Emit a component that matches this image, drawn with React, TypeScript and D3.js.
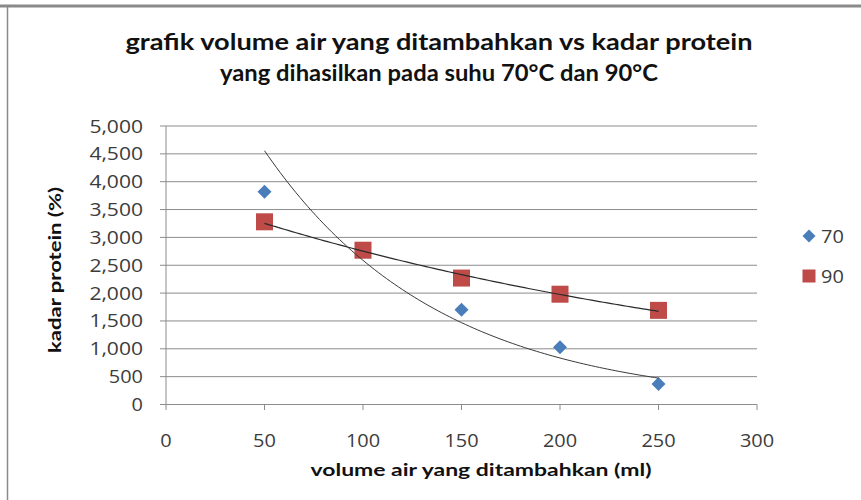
import React from "react";
import * as d3 from "d3";

const volumes = [50, 100, 150, 200, 250];
const series70 = [3820, 2770, 1700, 1030, 370];
const series90 = [3280, 2770, 2270, 1980, 1690];
const xTicks = [0, 50, 100, 150, 200, 250, 300];
const yTicks = [0, 500, 1000, 1500, 2000, 2500, 3000, 3500, 4000, 4500, 5000];
const titleLines = [
  "grafik volume air yang ditambahkan vs kadar protein",
  "yang dihasilkan pada suhu 70°C dan 90°C",
];
const xTitle = "volume air yang ditambahkan (ml)";
const yTitle = "kadar protein (%)";
const legendLabels = ["70", "90"];

function expFit(xs: number[], ys: number[]) {
  const ly = ys.map((v) => Math.log(v));
  const mx = d3.mean(xs)!;
  const my = d3.mean(ly)!;
  let sxy = 0, sxx = 0;
  xs.forEach((x, i) => {
    sxy += (x - mx) * (ly[i] - my);
    sxx += (x - mx) * (x - mx);
  });
  const b = sxy / sxx;
  const a = my - b * mx;
  return (x: number) => Math.exp(a + b * x);
}

// width of a numeric label in the reference's wide digit style
const labelWidth = (s: string) =>
  s.split("").reduce((acc, c) => acc + (c === "," ? 8 : 11.4), 0);

export default function App() {
  const W = 861, H = 500;
  const x = d3.scaleLinear().domain([0, 300]).range([166, 757]);
  const y = d3.scaleLinear().domain([0, 5000]).range([404.5, 126]);
  const font = "Lato, 'Open Sans', sans-serif";
  const tickFont = "'Open Sans', sans-serif";
  const fmt = d3.format(",");

  const f70 = expFit(volumes, series70);
  const f90 = expFit(volumes, series90);
  const xs = d3.range(50, 250.01, 2);
  const line = d3.line<number[]>().x((d) => x(d[0])).y((d) => y(d[1]));
  const path70 = line(xs.map((v) => [v, f70(v)]));
  const path90 = line(xs.map((v) => [v, f90(v)]));

  const diamond = (cx: number, cy: number, r: number) =>
    `M${cx},${cy - r}L${cx + r},${cy}L${cx},${cy + r}L${cx - r},${cy}Z`;

  const blue = "#4A7EBB";
  const red = "#BE4B48";
  const grid = "#8C8C8C";
  const textCol = "#3c3c3c";

  return (
    <svg width={W} height={H} style={{ position: "absolute", left: 0, top: 0 }}>
      <rect x={0} y={0} width={W} height={H} fill="#fff" />
      <line x1={0} x2={W} y1={6} y2={6} stroke="#8a8a8a" strokeWidth={3} />
      <line x1={7.5} x2={7.5} y1={6} y2={H} stroke="#8a8a8a" strokeWidth={1.5} />

      {titleLines.map((t, i) => (
        <text
          key={i}
          x={439}
          y={50 + i * 31}
          textAnchor="middle"
          fontFamily={font}
          fontWeight="bold"
          fontSize={22}
          fill="#111"
          textLength={i === 0 ? 627 : 438}
          lengthAdjust="spacingAndGlyphs"
        >
          {t}
        </text>
      ))}

      {yTicks.map((t) => (
        <g key={t}>
          <line x1={160} x2={757} y1={y(t)} y2={y(t)} stroke={grid} strokeWidth={1} />
          <text
            x={143}
            y={y(t) + 6.5}
            textAnchor="end"
            fontFamily={tickFont}
            fontSize={18}
            fill={textCol}
            textLength={labelWidth(fmt(t))}
            lengthAdjust="spacingAndGlyphs"
          >
            {fmt(t)}
          </text>
        </g>
      ))}
      <line x1={166} x2={166} y1={126} y2={404.5} stroke={grid} strokeWidth={1} />
      {xTicks.map((t) => (
        <g key={t}>
          <line x1={x(t)} x2={x(t)} y1={404.5} y2={410} stroke={grid} strokeWidth={1} />
          <text
            x={x(t)}
            y={447}
            textAnchor="middle"
            fontFamily={tickFont}
            fontSize={18}
            fill={textCol}
            textLength={labelWidth(String(t))}
            lengthAdjust="spacingAndGlyphs"
          >
            {t}
          </text>
        </g>
      ))}

      <text
        x={481}
        y={476}
        textAnchor="middle"
        fontFamily={font}
        fontWeight="bold"
        fontSize={17}
        fill="#111"
        textLength={341}
        lengthAdjust="spacingAndGlyphs"
      >
        {xTitle}
      </text>
      <text
        transform={`translate(61,270) rotate(-90)`}
        textAnchor="middle"
        fontFamily={font}
        fontWeight="bold"
        fontSize={17}
        fill="#111"
        textLength={166}
        lengthAdjust="spacingAndGlyphs"
      >
        {yTitle}
      </text>

      {volumes.map((v, i) => (
        <path key={"d" + i} d={diamond(x(v), y(series70[i]), 7)} fill={blue} />
      ))}
      {volumes.map((v, i) => (
        <rect
          key={"s" + i}
          x={x(v) - 8.5}
          y={y(series90[i]) - 8.5}
          width={17}
          height={17}
          fill={red}
        />
      ))}

      <path d={path70 || ""} fill="none" stroke="#3a3a3a" strokeWidth={1} />
      <path d={path90 || ""} fill="none" stroke="#2a2a2a" strokeWidth={1.2} />

      <path d={diamond(809, 236, 6.5)} fill={blue} />
      <text x={821} y={243} fontFamily={tickFont} fontSize={18} fill={textCol}
        textLength={labelWidth(legendLabels[0])} lengthAdjust="spacingAndGlyphs">
        {legendLabels[0]}
      </text>
      <rect x={802.5} y={269.5} width={13} height={13} fill={red} />
      <text x={821} y={283} fontFamily={tickFont} fontSize={18} fill={textCol}
        textLength={labelWidth(legendLabels[1])} lengthAdjust="spacingAndGlyphs">
        {legendLabels[1]}
      </text>
    </svg>
  );
}
